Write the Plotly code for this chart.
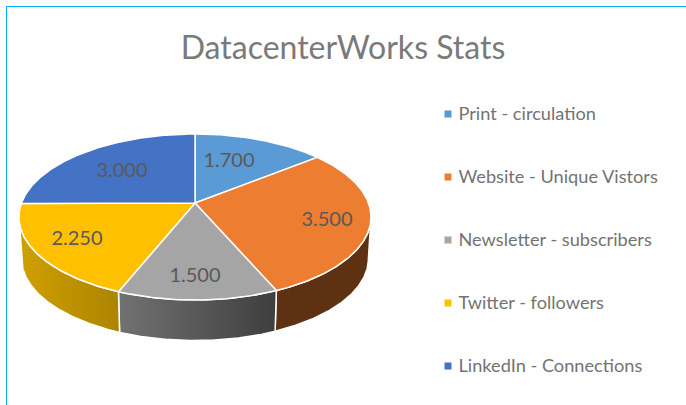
import numpy as np
import plotly.graph_objects as go

# ---- data ----
categories = ["Print - circulation", "Website - Unique Vistors", "Newsletter - subscribers",
              "Twitter - followers", "LinkedIn - Connections"]
values = [1.7, 3.5, 1.5, 2.25, 3.0]
value_labels = ["1.700", "3.500", "1.500", "2.250", "3.000"]
title = "DatacenterWorks Stats"

# ---- style ----
colors = ["#5B9BD5", "#ED7D31", "#A5A5A5", "#FFC000", "#4472C4"]
side_gradients = [None, ["#5E3112", "#5E3112"], ["#727272", "#3E3E3E"], ["#CFA000", "#AD8400"], None]
label_pos = [(229, 162), (327, 221), (195, 277), (77, 240), (122, 172)]
legend_x = 448
legend_text_x = 458.5
legend_y = [114, 177, 240, 303, 366]
legend_text_y = [115, 178, 241, 304, 367]
CX, CY = 195.0, 203.0     # apex of the pie on the page
A, D, C = 80.6, 173.5, 0.1687   # perspective tilt of the disc
DEPTH = 42.0
SHRINK = 0.985
FRAME = "#00B0F0"
FONT = "Lato, Carlito, 'Open Sans', sans-serif"


def project(theta_deg, scale=1.0, dy=0.0):
    t = np.radians(theta_deg)
    u, v = np.sin(t), np.cos(t)
    den = 1 + C * v
    return CX + scale * D * u / den, CY + dy - scale * A * v / den


def arc(a, b):
    n = max(int(abs(b - a) * 2), 2)
    return np.linspace(a, b, n)


total = sum(values)
edges = np.cumsum([0] + values) / total * 360
limit = np.degrees(np.arccos(-C))
vis_lo, vis_hi = limit, 360 - limit

fig = go.Figure()

# extruded rim, from the value angles
for i, name in enumerate(categories):
    lo, hi = max(edges[i], vis_lo), min(edges[i + 1], vis_hi)
    if hi <= lo or side_gradients[i] is None:
        continue
    th = arc(lo, hi)
    x1, y1 = project(th)
    x2, y2 = project(th[::-1], SHRINK, DEPTH)
    x = np.r_[x1, x2, x1[0]]
    y = np.r_[y1, y2, y1[0]]
    c_left, c_right = side_gradients[i]
    fig.add_trace(go.Scatter(
        x=x, y=y, mode="lines", fill="toself", showlegend=False, hoverinfo="skip",
        line=dict(color="#FFFFFF", width=1.5),
        fillgradient=dict(type="horizontal", colorscale=[[0, c_left], [1, c_right]]),
    ))

# top face
for i, name in enumerate(categories):
    th = arc(edges[i], edges[i + 1])
    x1, y1 = project(th)
    fig.add_trace(go.Scatter(
        x=np.r_[CX, x1, CX], y=np.r_[CY, y1, CY], mode="lines", fill="toself",
        fillcolor=colors[i], line=dict(color="#FFFFFF", width=1.5),
        name=name, showlegend=False, hovertemplate=name + ": %{text}<extra></extra>",
        text=[value_labels[i]] * (len(th) + 2),
    ))

# data labels
fig.add_trace(go.Scatter(
    x=[p[0] for p in label_pos], y=[p[1] for p in label_pos], mode="text",
    text=value_labels, textfont=dict(family=FONT, size=20, color="#595959"),
    textposition="middle center", showlegend=False, hoverinfo="skip",
))

# legend column
for i, name in enumerate(categories):
    fig.add_trace(go.Scatter(
        x=[legend_x], y=[legend_y[i]], mode="markers",
        marker=dict(symbol="square", size=7, color=colors[i]),
        showlegend=False, hoverinfo="skip",
    ))
    fig.add_trace(go.Scatter(
        x=[legend_text_x], y=[legend_text_y[i]], mode="text", text=[name],
        textposition="middle right",
        textfont=dict(family=FONT, size=18.2, color="#737373"),
        showlegend=False, hoverinfo="skip",
    ))

# frame drawn on the page
fig.add_shape(type="line", x0=6.5, x1=6.5, y0=6.5, y1=405, xref="x", yref="y",
              line=dict(color=FRAME, width=1))
fig.add_shape(type="line", x0=6.5, x1=686, y0=6.5, y1=6.5, xref="x", yref="y",
              line=dict(color=FRAME, width=1))

fig.update_layout(
    width=686, height=405, autosize=False,
    margin=dict(l=0, r=0, t=0, b=0),
    paper_bgcolor="#FFFFFF", plot_bgcolor="#FFFFFF",
    title=dict(text=title, x=0.5, xanchor="center", y=1 - 48 / 405, yanchor="middle",
               font=dict(family=FONT, size=32, color="#7A7A7A")),
    xaxis=dict(range=[0, 686], visible=False, fixedrange=True),
    yaxis=dict(range=[405, 0], visible=False, fixedrange=True),
)

fig.write_html("out.html", config={"displayModeBar": False},
               post_script="document.body.style.margin='0';document.body.style.overflow='hidden';")
